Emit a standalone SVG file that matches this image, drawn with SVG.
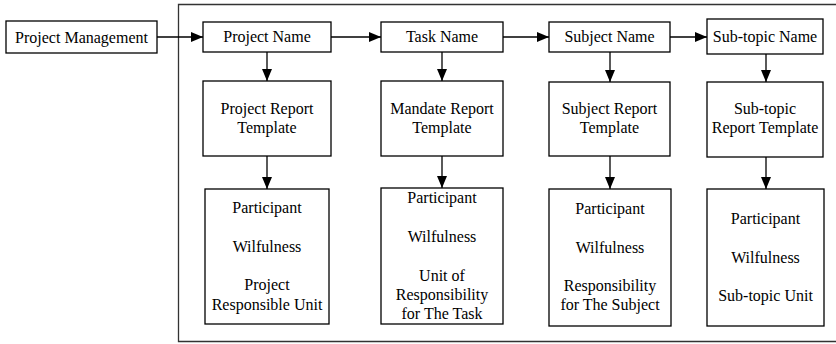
<svg xmlns="http://www.w3.org/2000/svg" width="836" height="344" viewBox="0 0 836 344">
<defs>
<marker id="ah" markerWidth="12" markerHeight="10" refX="12" refY="5" orient="auto" markerUnits="userSpaceOnUse">
<path d="M0,0 L12,5 L0,10 Z" fill="#000"/>
</marker>
<style>
.b{fill:#fff;stroke:#000;stroke-width:1.3}
text{font-family:'Liberation Serif','DejaVu Serif',serif;font-size:16px;fill:#000;text-anchor:middle}
.c{stroke:#000;stroke-width:1.3;fill:none}
</style>
</defs>
<rect width="836" height="344" fill="#fff"/>
<g id="frame"><path d="M840,4.5 H178.5 V341.5 H840" fill="none" stroke="#333" stroke-width="1.3"/></g>
<g id="pm"><rect class="b" x="6" y="21" width="151" height="32"/><text x="81.5" y="43" font-family="Liberation Serif">Project Management</text></g>
<g id="pn"><rect class="b" x="203" y="22" width="128" height="30"/><text x="267" y="42">Project Name</text></g>
<g id="tn"><rect class="b" x="381" y="22" width="122" height="30"/><text x="442" y="42">Task Name</text></g>
<g id="sn"><rect class="b" x="549" y="22" width="121" height="30"/><text x="609.5" y="42">Subject Name</text></g>
<g id="stn"><rect class="b" x="707" y="19" width="116" height="35"/><text x="765" y="42">Sub-topic Name</text></g>
<g id="prt"><rect class="b" x="203" y="81" width="128" height="75"/><text x="267" y="114">Project Report</text><text x="267" y="133">Template</text></g>
<g id="mrt"><rect class="b" x="381" y="81" width="122" height="75"/><text x="442" y="114">Mandate Report</text><text x="442" y="133">Template</text></g>
<g id="srt"><rect class="b" x="549" y="82" width="121" height="74"/><text x="609.5" y="114">Subject Report</text><text x="609.5" y="133">Template</text></g>
<g id="strt"><rect class="b" x="707" y="82" width="116" height="75"/><text x="765" y="114">Sub-topic</text><text x="765" y="133">Report Template</text></g>
<g id="pd"><rect class="b" x="205" y="189" width="124" height="135"/><text x="267" y="213">Participant</text><text x="267" y="252">Wilfulness</text><text x="267" y="290">Project</text><text x="267" y="310">Responsible Unit</text></g>
<g id="td"><rect class="b" x="381" y="188" width="122" height="136"/><text x="442" y="203">Participant</text><text x="442" y="242">Wilfulness</text><text x="442" y="281">Unit of</text><text x="442" y="300">Responsibility</text><text x="442" y="319">for The Task</text></g>
<g id="sd"><rect class="b" x="549" y="189" width="122" height="137"/><text x="610" y="214">Participant</text><text x="610" y="253">Wilfulness</text><text x="610" y="291">Responsibility</text><text x="610" y="310">for The Subject</text></g>
<g id="std"><rect class="b" x="707" y="189" width="117" height="137"/><text x="765.5" y="224">Participant</text><text x="765.5" y="263">Wilfulness</text><text x="765.5" y="301">Sub-topic Unit</text></g>
<g id="connectors">
<line class="c" x1="157" y1="37" x2="203" y2="37" marker-end="url(#ah)"/>
<line class="c" x1="331" y1="37" x2="381" y2="37" marker-end="url(#ah)"/>
<line class="c" x1="503" y1="37" x2="549" y2="37" marker-end="url(#ah)"/>
<line class="c" x1="670" y1="37" x2="707" y2="37" marker-end="url(#ah)"/>
<line class="c" x1="267" y1="52" x2="267" y2="81" marker-end="url(#ah)"/>
<line class="c" x1="442" y1="52" x2="442" y2="81" marker-end="url(#ah)"/>
<line class="c" x1="610" y1="52" x2="610" y2="82" marker-end="url(#ah)"/>
<line class="c" x1="766" y1="54" x2="766" y2="82" marker-end="url(#ah)"/>
<line class="c" x1="267" y1="156" x2="267" y2="189" marker-end="url(#ah)"/>
<line class="c" x1="442" y1="156" x2="442" y2="188" marker-end="url(#ah)"/>
<line class="c" x1="610" y1="156" x2="610" y2="189" marker-end="url(#ah)"/>
<line class="c" x1="766" y1="157" x2="766" y2="189" marker-end="url(#ah)"/>
</g>
</svg>
